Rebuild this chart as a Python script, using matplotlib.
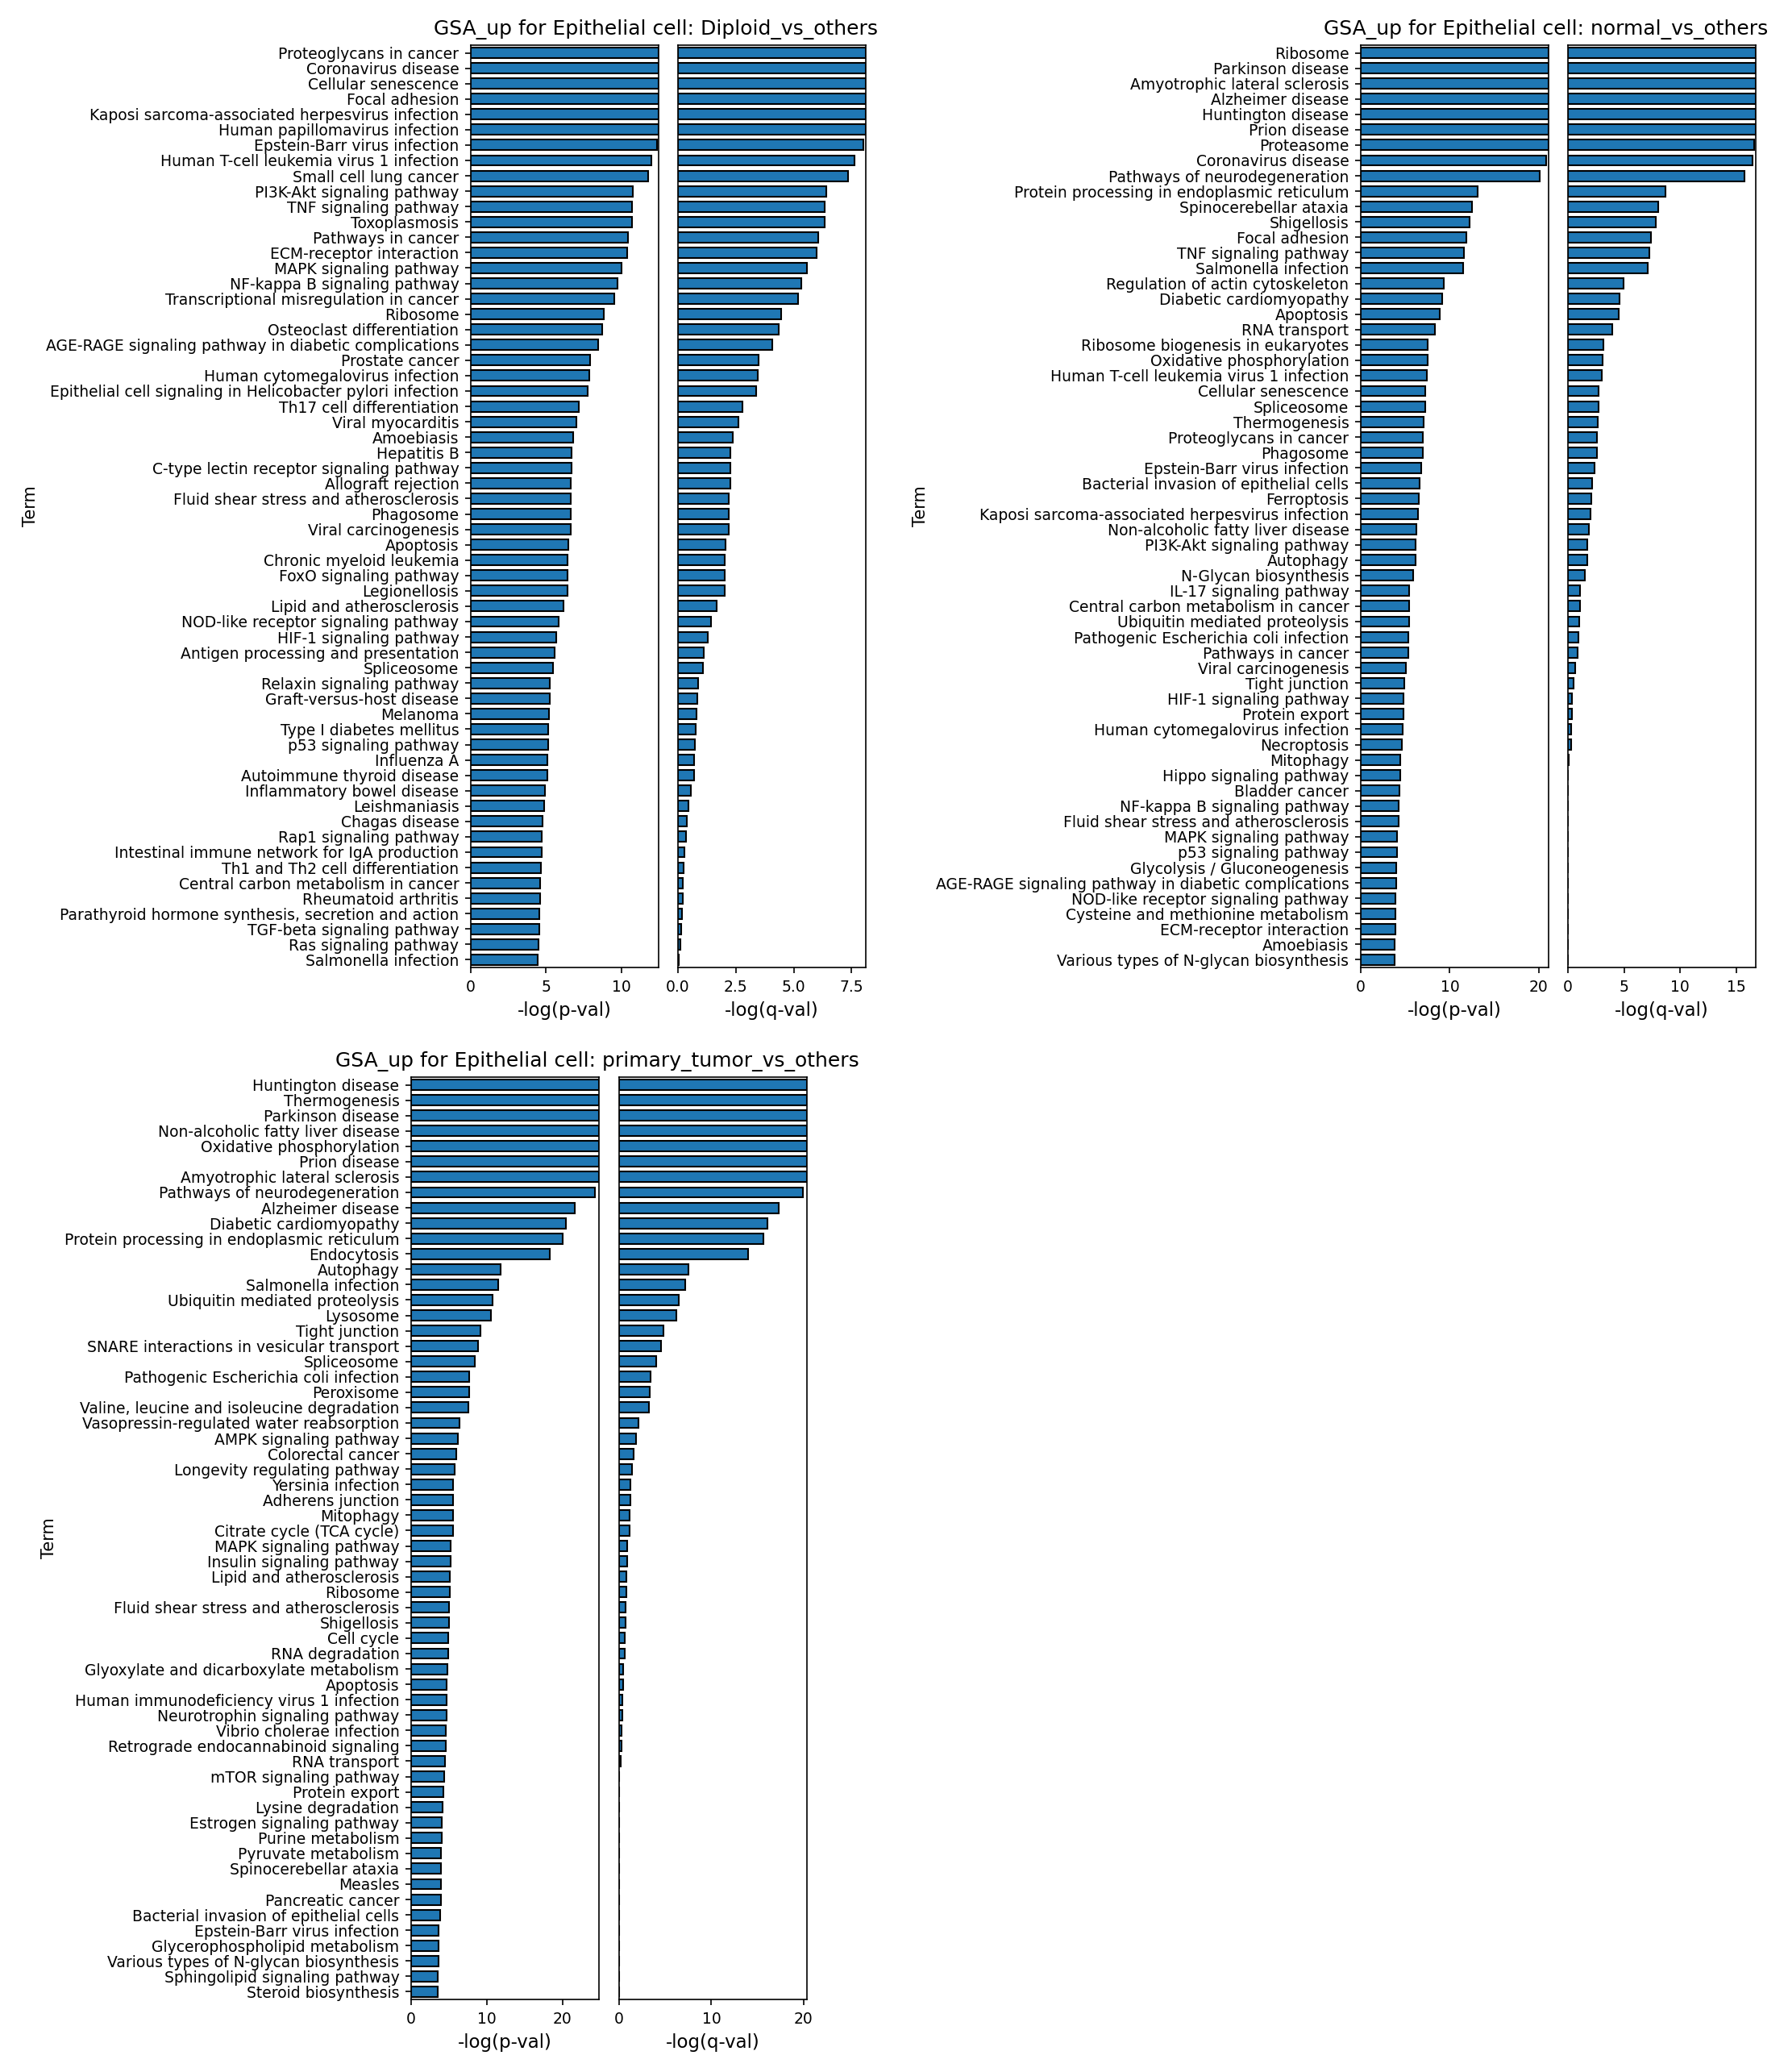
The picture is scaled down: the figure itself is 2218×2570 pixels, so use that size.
import matplotlib
matplotlib.use("Agg")
import matplotlib.pyplot as plt
import numpy as np

# ---------------- data ----------------
diploid_terms = [
    "Proteoglycans in cancer", "Coronavirus disease", "Cellular senescence", "Focal adhesion",
    "Kaposi sarcoma-associated herpesvirus infection", "Human papillomavirus infection",
    "Epstein-Barr virus infection", "Human T-cell leukemia virus 1 infection", "Small cell lung cancer",
    "PI3K-Akt signaling pathway", "TNF signaling pathway", "Toxoplasmosis", "Pathways in cancer",
    "ECM-receptor interaction", "MAPK signaling pathway", "NF-kappa B signaling pathway",
    "Transcriptional misregulation in cancer", "Ribosome", "Osteoclast differentiation",
    "AGE-RAGE signaling pathway in diabetic complications", "Prostate cancer",
    "Human cytomegalovirus infection", "Epithelial cell signaling in Helicobacter pylori infection",
    "Th17 cell differentiation", "Viral myocarditis", "Amoebiasis", "Hepatitis B",
    "C-type lectin receptor signaling pathway", "Allograft rejection",
    "Fluid shear stress and atherosclerosis", "Phagosome", "Viral carcinogenesis", "Apoptosis",
    "Chronic myeloid leukemia", "FoxO signaling pathway", "Legionellosis", "Lipid and atherosclerosis",
    "NOD-like receptor signaling pathway", "HIF-1 signaling pathway",
    "Antigen processing and presentation", "Spliceosome", "Relaxin signaling pathway",
    "Graft-versus-host disease", "Melanoma", "Type I diabetes mellitus", "p53 signaling pathway",
    "Influenza A", "Autoimmune thyroid disease", "Inflammatory bowel disease", "Leishmaniasis",
    "Chagas disease", "Rap1 signaling pathway", "Intestinal immune network for IgA production",
    "Th1 and Th2 cell differentiation", "Central carbon metabolism in cancer", "Rheumatoid arthritis",
    "Parathyroid hormone synthesis, secretion and action", "TGF-beta signaling pathway",
    "Ras signaling pathway", "Salmonella infection",
]
diploid_p = [
    12.47, 12.47, 12.47, 12.47, 12.47, 12.47, 12.38, 11.99, 11.79, 10.77,
    10.72, 10.72, 10.44, 10.39, 10.02, 9.74, 9.52, 8.84, 8.73, 8.45,
    7.92, 7.86, 7.77, 7.18, 7.01, 6.79, 6.70, 6.70, 6.65, 6.65,
    6.61, 6.61, 6.49, 6.44, 6.44, 6.44, 6.13, 5.85, 5.68, 5.54,
    5.48, 5.26, 5.26, 5.20, 5.15, 5.15, 5.09, 5.09, 4.94, 4.89,
    4.78, 4.72, 4.72, 4.67, 4.61, 4.61, 4.54, 4.54, 4.52, 4.46,
]
diploid_q = [
    8.11, 8.11, 8.11, 8.11, 8.11, 8.11, 7.99, 7.61, 7.36, 6.39,
    6.32, 6.32, 6.06, 5.97, 5.57, 5.33, 5.17, 4.46, 4.34, 4.07,
    3.49, 3.46, 3.37, 2.80, 2.61, 2.38, 2.27, 2.27, 2.25, 2.21,
    2.19, 2.19, 2.07, 2.01, 2.01, 2.01, 1.66, 1.42, 1.28, 1.11,
    1.08, 0.86, 0.84, 0.80, 0.77, 0.73, 0.69, 0.69, 0.55, 0.45,
    0.38, 0.35, 0.28, 0.24, 0.20, 0.20, 0.17, 0.13, 0.11, 0.04,
]

normal_terms = [
    "Ribosome", "Parkinson disease", "Amyotrophic lateral sclerosis", "Alzheimer disease",
    "Huntington disease", "Prion disease", "Proteasome", "Coronavirus disease",
    "Pathways of neurodegeneration", "Protein processing in endoplasmic reticulum",
    "Spinocerebellar ataxia", "Shigellosis", "Focal adhesion", "TNF signaling pathway",
    "Salmonella infection", "Regulation of actin cytoskeleton", "Diabetic cardiomyopathy", "Apoptosis",
    "RNA transport", "Ribosome biogenesis in eukaryotes", "Oxidative phosphorylation",
    "Human T-cell leukemia virus 1 infection", "Cellular senescence", "Spliceosome", "Thermogenesis",
    "Proteoglycans in cancer", "Phagosome", "Epstein-Barr virus infection",
    "Bacterial invasion of epithelial cells", "Ferroptosis",
    "Kaposi sarcoma-associated herpesvirus infection", "Non-alcoholic fatty liver disease",
    "PI3K-Akt signaling pathway", "Autophagy", "N-Glycan biosynthesis", "IL-17 signaling pathway",
    "Central carbon metabolism in cancer", "Ubiquitin mediated proteolysis",
    "Pathogenic Escherichia coli infection", "Pathways in cancer", "Viral carcinogenesis",
    "Tight junction", "HIF-1 signaling pathway", "Protein export", "Human cytomegalovirus infection",
    "Necroptosis", "Mitophagy", "Hippo signaling pathway", "Bladder cancer",
    "NF-kappa B signaling pathway", "Fluid shear stress and atherosclerosis", "MAPK signaling pathway",
    "p53 signaling pathway", "Glycolysis / Gluconeogenesis",
    "AGE-RAGE signaling pathway in diabetic complications", "NOD-like receptor signaling pathway",
    "Cysteine and methionine metabolism", "ECM-receptor interaction", "Amoebiasis",
    "Various types of N-glycan biosynthesis",
]
normal_p = [
    21.09, 21.09, 21.09, 21.09, 21.09, 21.09, 21.05, 20.81, 20.12, 13.15,
    12.52, 12.24, 11.90, 11.62, 11.53, 9.35, 9.10, 8.91, 8.35, 7.54,
    7.54, 7.45, 7.20, 7.20, 7.10, 7.01, 7.01, 6.82, 6.64, 6.54,
    6.45, 6.29, 6.20, 6.20, 5.92, 5.45, 5.45, 5.45, 5.36, 5.30,
    5.11, 4.92, 4.83, 4.83, 4.74, 4.64, 4.45, 4.45, 4.30, 4.21,
    4.21, 4.11, 4.11, 4.02, 4.02, 3.93, 3.93, 3.93, 3.83, 3.83,
]
normal_q = [
    16.73, 16.73, 16.73, 16.73, 16.73, 16.73, 16.61, 16.46, 15.69, 8.69,
    8.04, 7.80, 7.43, 7.23, 7.08, 4.93, 4.56, 4.52, 3.92, 3.16,
    3.08, 3.01, 2.74, 2.74, 2.66, 2.59, 2.59, 2.37, 2.17, 2.10,
    2.02, 1.88, 1.75, 1.75, 1.51, 1.09, 1.09, 1.01, 0.94, 0.86,
    0.67, 0.52, 0.37, 0.37, 0.30, 0.30, 0.07, 0.0, 0.0, 0.0,
    0.0, 0.0, 0.0, 0.0, 0.0, 0.0, 0.0, 0.0, 0.0, 0.0,
]

tumor_terms = [
    "Huntington disease", "Thermogenesis", "Parkinson disease", "Non-alcoholic fatty liver disease",
    "Oxidative phosphorylation", "Prion disease", "Amyotrophic lateral sclerosis",
    "Pathways of neurodegeneration", "Alzheimer disease", "Diabetic cardiomyopathy",
    "Protein processing in endoplasmic reticulum", "Endocytosis", "Autophagy", "Salmonella infection",
    "Ubiquitin mediated proteolysis", "Lysosome", "Tight junction",
    "SNARE interactions in vesicular transport", "Spliceosome", "Pathogenic Escherichia coli infection",
    "Peroxisome", "Valine, leucine and isoleucine degradation", "Vasopressin-regulated water reabsorption",
    "AMPK signaling pathway", "Colorectal cancer", "Longevity regulating pathway", "Yersinia infection",
    "Adherens junction", "Mitophagy", "Citrate cycle (TCA cycle)", "MAPK signaling pathway",
    "Insulin signaling pathway", "Lipid and atherosclerosis", "Ribosome",
    "Fluid shear stress and atherosclerosis", "Shigellosis", "Cell cycle", "RNA degradation",
    "Glyoxylate and dicarboxylate metabolism", "Apoptosis", "Human immunodeficiency virus 1 infection",
    "Neurotrophin signaling pathway", "Vibrio cholerae infection", "Retrograde endocannabinoid signaling",
    "RNA transport", "mTOR signaling pathway", "Protein export", "Lysine degradation",
    "Estrogen signaling pathway", "Purine metabolism", "Pyruvate metabolism", "Spinocerebellar ataxia",
    "Measles", "Pancreatic cancer", "Bacterial invasion of epithelial cells",
    "Epstein-Barr virus infection", "Glycerophospholipid metabolism",
    "Various types of N-glycan biosynthesis", "Sphingolipid signaling pathway", "Steroid biosynthesis",
]
tumor_p = [
    24.81, 24.81, 24.81, 24.81, 24.81, 24.81, 24.81, 24.29, 21.65, 20.48,
    20.04, 18.35, 11.85, 11.52, 10.75, 10.57, 9.21, 8.84, 8.44, 7.67,
    7.67, 7.56, 6.42, 6.20, 5.98, 5.76, 5.58, 5.58, 5.58, 5.58,
    5.25, 5.25, 5.14, 5.14, 5.03, 5.03, 4.92, 4.92, 4.84, 4.73,
    4.73, 4.73, 4.62, 4.62, 4.51, 4.40, 4.29, 4.18, 4.07, 4.07,
    3.96, 3.96, 3.96, 3.96, 3.85, 3.67, 3.67, 3.67, 3.56, 3.56,
]
tumor_q = [
    20.36, 20.36, 20.36, 20.36, 20.36, 20.36, 20.36, 19.88, 17.26, 16.12,
    15.61, 13.95, 7.49, 7.13, 6.44, 6.17, 4.84, 4.51, 4.00, 3.37,
    3.31, 3.22, 2.08, 1.80, 1.53, 1.38, 1.20, 1.20, 1.11, 1.11,
    0.84, 0.84, 0.75, 0.75, 0.66, 0.66, 0.60, 0.60, 0.42, 0.42,
    0.33, 0.33, 0.24, 0.24, 0.15, 0.0, 0.0, 0.0, 0.0, 0.0,
    0.0, 0.0, 0.0, 0.0, 0.0, 0.0, 0.0, 0.0, 0.0, 0.0,
]

titles = [
    "GSA_up for Epithelial cell: Diploid_vs_others",
    "GSA_up for Epithelial cell: normal_vs_others",
    "GSA_up for Epithelial cell: primary_tumor_vs_others",
]
p_label = "-log(p-val)"
q_label = "-log(q-val)"
y_label = "Term"

# ---------------- layout (pixel geometry) ----------------
W, H = 2218, 2570
DPI = 150
fig = plt.figure(figsize=(W / DPI, H / DPI), dpi=DPI)

AX_W = 233
AX_H = 1144
panels = [
    dict(terms=diploid_terms, p=diploid_p, q=diploid_q, title=titles[0],
         p_left=584, q_left=841, top=56, title_base=43),
    dict(terms=normal_terms, p=normal_p, q=normal_q, title=titles[1],
         p_left=1688, q_left=1945, top=56, title_base=43),
    dict(terms=tumor_terms, p=tumor_p, q=tumor_q, title=titles[2],
         p_left=510, q_left=768, top=1336, title_base=1323),
]

BAR_COLOR = "#1f77b4"


def add_ax(left, top):
    return fig.add_axes([left / W, 1 - (top + AX_H) / H, AX_W / W, AX_H / H])


for pn in panels:
    n = len(pn["terms"])
    ypos = np.arange(n)
    axp = add_ax(pn["p_left"], pn["top"])
    axq = add_ax(pn["q_left"], pn["top"])

    axp.barh(ypos, pn["p"], height=0.68, color=BAR_COLOR, edgecolor="black", linewidth=1.0)
    axq.barh(ypos, pn["q"], height=0.68, color=BAR_COLOR, edgecolor="black", linewidth=1.0)

    for ax, vals in ((axp, pn["p"]), (axq, pn["q"])):
        ax.set_ylim(n - 0.5, -0.5)
        ax.set_xlim(0, max(vals))
        ax.tick_params(axis="x", labelsize=9)

    axp.set_yticks(ypos)
    axp.set_yticklabels(pn["terms"], fontsize=9)
    axp.set_ylabel(y_label, fontsize=10)
    axq.set_yticks([])

    axp.set_xlabel(p_label, fontsize=11)
    axq.set_xlabel(q_label, fontsize=11)

    cx = (pn["p_left"] + pn["q_left"] + AX_W) / 2 - 15
    fig.text(cx / W, 1 - pn["title_base"] / H, pn["title"], fontsize=12,
             ha="center", va="baseline")

fig.savefig("out.png", dpi=DPI)
